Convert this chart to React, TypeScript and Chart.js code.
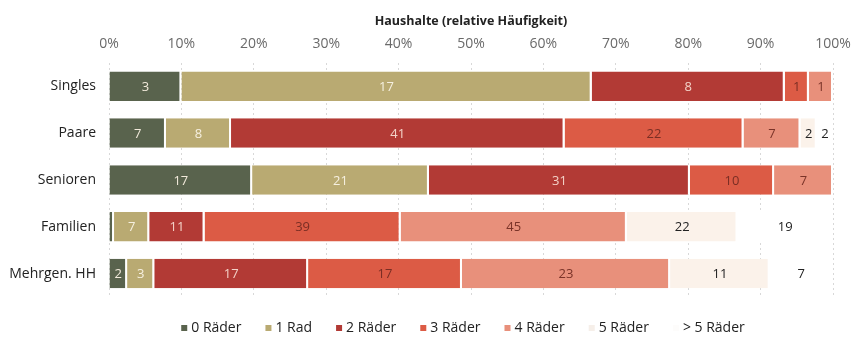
import React, { useEffect, useRef } from "react";
import { Chart, registerables } from "chart.js";

Chart.register(...registerables);

const categories = ["Singles", "Paare", "Senioren", "Familien", "Mehrgen. HH"];
const seriesNames = ["0 Räder", "1 Rad", "2 Räder", "3 Räder", "4 Räder", "5 Räder", "> 5 Räder"];
const r0 = [3, 7, 17, 1, 2];
const r1 = [17, 8, 21, 7, 3];
const r2 = [8, 41, 31, 11, 17];
const r3 = [1, 22, 10, 39, 17];
const r4 = [1, 7, 7, 45, 23];
const r5 = [0, 2, 0, 22, 11];
const r6 = [0, 2, 0, 19, 7];
const xTicks = [0, 10, 20, 30, 40, 50, 60, 70, 80, 90, 100];

const colors = ["#59634d", "#b9aa72", "#b23a35", "#dc5b45", "#e8907b", "#fbf2ea", "#ffffff"];
const labelColors = ["#f2eadb", "#f6f0e0", "#f3d2c8", "#7a2e24", "#7a3328", "#222222", "#222222"];
const legendBoxColors = ["#59634d", "#b9aa72", "#b23a35", "#dc5b45", "#e8907b", "#f6efe9", "#fdfcfb"];

const FONT = "'Open Sans'";

export default function App() {
  const ref = useRef<HTMLCanvasElement | null>(null);
  useEffect(() => {
    document.body.style.margin = "0";
    const series = [r0, r1, r2, r3, r4, r5, r6];
    const totals = categories.map((_, i) => series.reduce((s, a) => s + a[i], 0));
    const valueLabels = {
      id: "valueLabels",
      afterDatasetsDraw(chart: any) {
        const ctx = chart.ctx;
        ctx.save();
        ctx.font = `13px ${FONT}`;
        ctx.textAlign = "center";
        ctx.textBaseline = "middle";
        chart.data.datasets.forEach((ds: any, di: number) => {
          const meta = chart.getDatasetMeta(di);
          meta.data.forEach((el: any, i: number) => {
            const count = series[di][i];
            if (!count) return;
            const w = Math.abs(el.x - el.base);
            if (w < 6) return;
            ctx.fillStyle = labelColors[di];
            ctx.fillText(String(count), (el.x + el.base) / 2, el.y + 1);
          });
        });
        ctx.restore();
      },
    };
    const customLegend = {
      id: "customLegend",
      afterDraw(chart: any) {
        const ctx = chart.ctx;
        ctx.save();
        ctx.font = `14px ${FONT}`;
        ctx.textBaseline = "middle";
        ctx.textAlign = "left";
        const box = 6;
        const gapText = 4;
        const gapItem = 24;
        const widths = seriesNames.map((n) => box + gapText + ctx.measureText(n).width);
        const total = widths.reduce((a, b) => a + b, 0) + gapItem * (widths.length - 1);
        let x = 463 - total / 2;
        const y = 328;
        seriesNames.forEach((n, i) => {
          ctx.fillStyle = legendBoxColors[i];
          ctx.fillRect(x, y - box / 2, box, box);
          ctx.fillStyle = "#222";
          ctx.fillText(n, x + box + gapText, y);
          x += widths[i] + gapItem;
        });
        ctx.restore();
      },
    };
    const chart = new Chart(ref.current!, {
      type: "bar",
      data: {
        labels: categories,
        datasets: series.map((arr, di) => ({
          label: seriesNames[di],
          data: arr.map((v, i) => (v / totals[i]) * 100),
          backgroundColor: colors[di],
          borderColor: "#ffffff",
          borderWidth: { left: 0, right: 2, top: 0, bottom: 0 },
          borderSkipped: false,
          barPercentage: 0.63,
          categoryPercentage: 1,
        })),
      },
      options: {
        indexAxis: "y",
        animation: false,
        responsive: false,
        layout: { padding: { left: 0, right: 19, top: 14, bottom: 46 } },
        scales: {
          x: {
            position: "top",
            stacked: true,
            min: 0,
            max: 100,
            afterBuildTicks: (s: any) => {
              s.ticks = xTicks.map((v) => ({ value: v }));
            },
            afterFit: (s: any) => {
              s.paddingLeft = 0;
              s.paddingRight = 0;
            },
            ticks: {
              callback: (v: any) => v + "%",
              font: { family: FONT, size: 14 },
              color: "#6a6a6a",
              padding: 10,
              maxRotation: 0,
            },
            grid: { color: "#d8d8d8", drawTicks: false, tickLength: 0 },
            border: { display: false, dash: [2, 3] },
            title: {
              display: true,
              text: "Haushalte (relative Häufigkeit)",
              font: { family: FONT, size: 12.5, weight: "bold" },
              color: "#222",
              padding: { top: 0, bottom: -3 },
            },
          },
          y: {
            stacked: true,
            afterFit: (s: any) => {
              s.width = 109;
            },
            ticks: {
              font: { family: FONT, size: 14 },
              color: "#222",
              padding: 13,
            },
            grid: { display: false, drawTicks: false },
            border: { display: false },
          },
        },
        plugins: {
          legend: { display: false },
          tooltip: { enabled: false },
        },
      },
      plugins: [valueLabels, customLegend],
    } as any);
    return () => chart.destroy();
  }, []);
  return (
    <div style={{ width: 852, height: 343 }}>
      <canvas ref={ref} width={852} height={343} style={{ width: 852, height: 343, display: "block" }} />
    </div>
  );
}
